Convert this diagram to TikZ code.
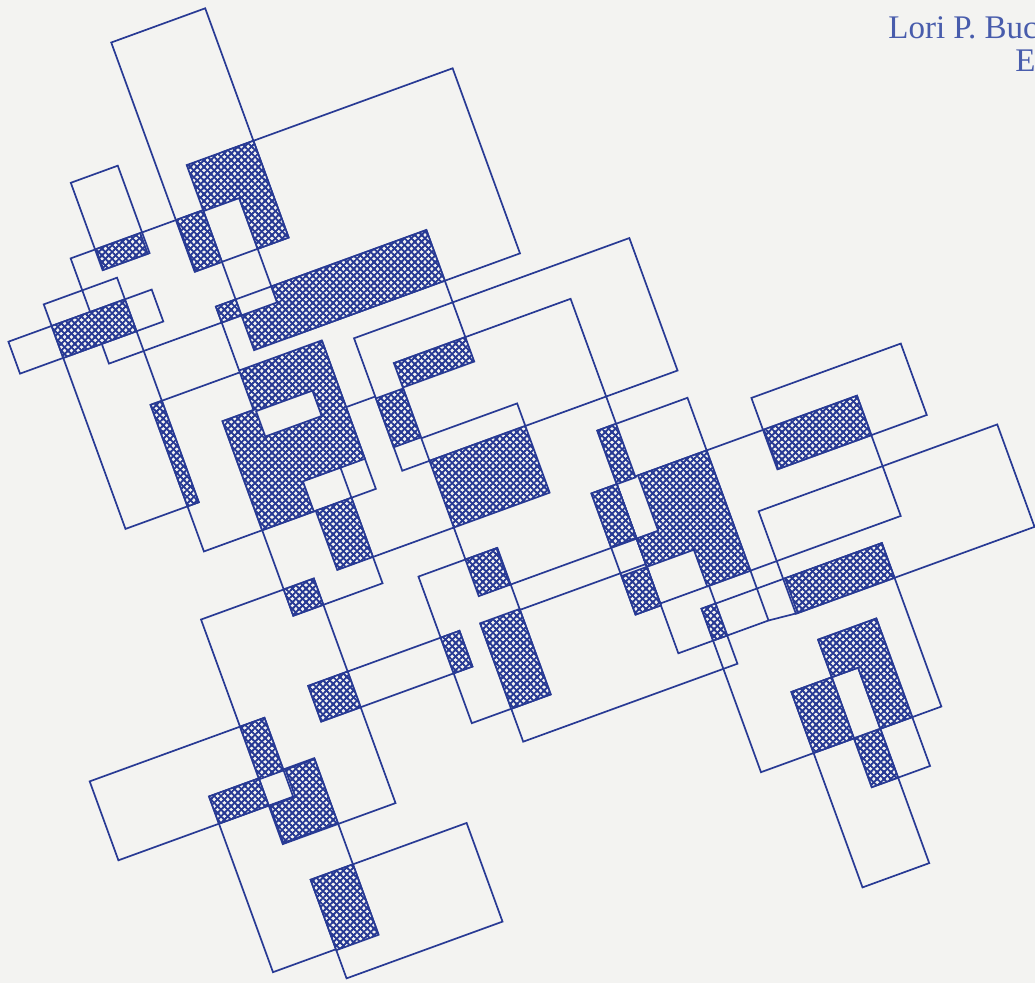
\documentclass[tikz,border=0pt]{standalone}
\usepackage{fontspec}
\setmainfont{Liberation Serif}
\usetikzlibrary{patterns}
\definecolor{lc}{RGB}{40,58,148}
\definecolor{tc}{RGB}{72,92,172}
\definecolor{bgc}{RGB}{243,243,241}
\pgfdeclarepatternformonly{xh}{\pgfqpoint{-1pt}{-1pt}}{\pgfqpoint{4.4pt}{4.4pt}}{\pgfqpoint{3.4pt}{3.4pt}}{%
  \pgfsetlinewidth{0.85pt}%
  \pgfpathmoveto{\pgfqpoint{-1pt}{-1pt}}\pgfpathlineto{\pgfqpoint{4.4pt}{4.4pt}}%
  \pgfpathmoveto{\pgfqpoint{-1pt}{4.4pt}}\pgfpathlineto{\pgfqpoint{4.4pt}{-1pt}}%
  \pgfusepath{stroke}}
\newcommand{\myrect}[4]{\draw[ln] (#1,#2) -- (#3,#2) -- (#3,#4) -- (#1,#4) -- cycle;}
\newcommand{\myhatch}[4]{\path[hz] (#1,#2) -- (#3,#2) -- (#3,#4) -- (#1,#4) -- cycle;}
\begin{document}
\begin{tikzpicture}[x=0.5pt,y=-0.5pt,
  ln/.style={draw=lc, line width=0.85pt, line join=miter},
  hz/.style={preaction={fill=bgc}, pattern=xh, pattern color=lc, draw=lc, line width=0.85pt}]
\fill[bgc] (0,0) rectangle (1035,983);
\useasboundingbox (0,0) rectangle (1035,983);
\begin{scope}
\clip (0,0) rectangle (1035,983);
\begin{scope}[x={(0.4698pt,0.1710pt)}, y={(0.1710pt,-0.4698pt)}]
% ---- outline rectangles
\myrect{90}{78}{190}{322}
\myrect{157}{219}{402}{416}
\myrect{4}{196}{54}{289}
\myrect{-22}{267}{119}{379}
\myrect{-63}{301}{15}{540}
\myrect{-109}{324}{43.5}{358}
\myrect{3}{432}{186}{588}
\myrect{65}{472}{160}{679}
\myrect{217}{439}{510}{580}
\myrect{414}{609}{510}{846}
\myrect{387}{666}{414}{795}
\myrect{414}{665}{670}{793}
\myrect{238}{751}{466}{876}
\myrect{196}{685}{280}{841}
\myrect{55}{750}{216}{788}
\myrect{-23}{651}{97}{890}
\myrect{-183}{765}{3}{849}
\myrect{-76}{820}{36}{1007}
\myrect{-9}{933}{157}{1038}
\myrect{570}{631}{729}{707}
\myrect{538}{740}{792}{849}
\myrect{451}{812}{643}{986}
\myrect{507}{921}{578}{1129}
\myrect{550}{881}{612}{1038}
% ---- open outlines
\draw[ln] (98,430) -- (98,362) -- (322,362) -- (322,476) -- (245,476);
\draw[ln] (322,476) -- (434,476) -- (434,609);
\draw[ln] (246,503) -- (246,580);
\draw[ln] (246,556) -- (348,556) -- (348,580);
\draw[ln] (246,651) -- (246,685);
\draw[ln] (279,724) -- (437,724);
\draw[ln] (160,651) -- (246,651);
\draw[ln] (186,501) -- (217,501);
\draw[ln] (510,846) -- (540,849);
% ---- hatched regions
\myhatch{5}{267}{52}{289}
\myhatch{91}{267}{119}{322}
\path[hz] (119,219) -- (190,219) -- (190,322) -- (157,322) -- (157,268) -- (119,268) -- cycle;
\myhatch{-63}{324}{15}{358}
\myhatch{3}{432}{15}{540}
\myhatch{98}{362}{119}{379}
\path[hz] (157,362) -- (322,362) -- (322,416) -- (119,416) -- (119,379) -- (157,379) -- cycle;
\path[hz, even odd rule] (98,430) -- (186,430) -- (186,556) -- (120,556) -- (120,588) -- (65,588) -- (65,472) -- (98,472) -- cycle
  (100,474) -- (160,474) -- (160,501) -- (100,501) -- cycle;
\myhatch{217}{503}{246}{555}
\myhatch{246}{476}{322}{502}
\myhatch{246}{580}{348}{651}
\myhatch{122}{588}{160}{651}
\myhatch{65}{651}{97}{679}
\myhatch{246}{685}{279}{724}
\myhatch{238}{750}{280}{841}
\myhatch{55}{750}{97}{788}
\myhatch{196}{750}{216}{788}
\myhatch{-23}{765}{3}{821}
\myhatch{-76}{820}{-23}{849}
\path[hz] (5,821) -- (36,821) -- (36,889) -- (-22,889) -- (-22,850) -- (5,850) -- cycle;
\myhatch{-9}{933}{36}{1008}
\myhatch{414}{609}{434}{666}
\myhatch{387}{666}{414}{723}
\path[hz] (437,665) -- (510,665) -- (510,793) -- (464,793) -- (464,754) -- (414,754) -- (414,724) -- (437,724) -- cycle;
\myhatch{387}{754}{414}{795}
\myhatch{451}{812}{466}{846}
\myhatch{571}{665}{670}{707}
\myhatch{540}{812}{643}{849}
\path[hz] (550,881) -- (612,881) -- (612,986) -- (578,986) -- (578,921) -- (550,921) -- cycle;
\myhatch{507}{921}{550}{986}
\myhatch{550}{986}{578}{1038}
\end{scope}
\end{scope}
\node[anchor=base west, text=tc, font=\fontsize{16.5}{19}\selectfont, inner sep=0pt] (t1) at (888,39) {Lori P. Buc};
\node[anchor=base west, text=tc, font=\fontsize{16.5}{19}\selectfont, inner sep=0pt] (t2) at (1015,72) {E};
\end{tikzpicture}
\end{document}
